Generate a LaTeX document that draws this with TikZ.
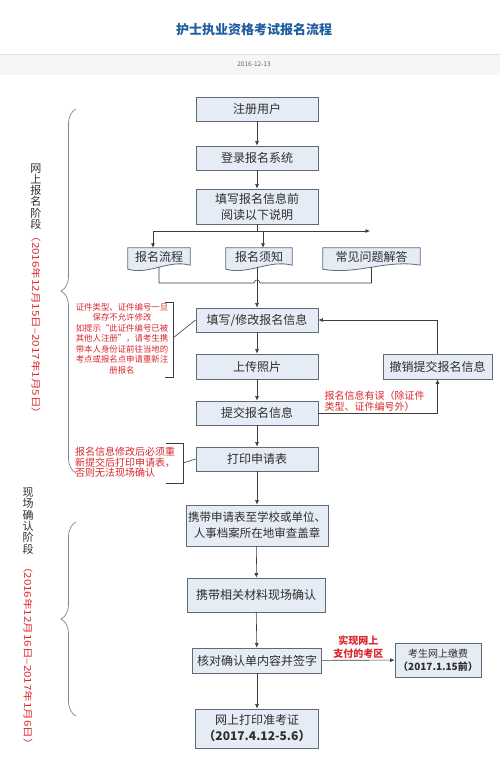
\documentclass[tikz,border=0pt]{standalone}
\usepackage{fontspec}
\setmainfont{Noto Sans CJK SC}
\usetikzlibrary{arrows.meta,positioning,calc,decorations.pathreplacing,backgrounds}
\definecolor{boxfill}{HTML}{E6ECF6}
\definecolor{boxline}{HTML}{5E6A78}
\definecolor{notered}{HTML}{D8262C}
\definecolor{titleblue}{HTML}{1E5E9E}
\definecolor{bandgray}{HTML}{F6F6F6}
\definecolor{bandline}{HTML}{E2E2E2}
\definecolor{ink}{HTML}{2E2E2E}
\definecolor{wire}{HTML}{3C3C3C}
\tikzset{
  flowbox/.style={
    rectangle, draw=boxline, fill=boxfill, line width=0.8pt,
    minimum width=122pt, minimum height=24pt,
    font=\fontsize{12}{16}\selectfont, text=ink, align=center,
    inner sep=2pt
  },
  docbox/.style={
    rectangle, inner sep=0pt, minimum height=17pt,
    font=\fontsize{12}{14}\selectfont, text=ink
  },
  docline/.style={draw=boxline, fill=boxfill, line width=0.8pt},
  flowarrow/.style={
    -{Latex[length=4.5pt,width=4pt]}, line width=0.6pt, color=wire
  },
  flowline/.style={line width=0.6pt, color=wire},
  notetext/.style={
    font=\fontsize{8.4}{10.5}\selectfont, text=notered, align=center,
    inner sep=0pt
  },
  redlabel/.style={
    font=\fontsize{10}{11}\selectfont, text=notered, align=left,
    inner sep=0pt
  },
  stagetext/.style={
    font=\fontsize{11}{11.3}\selectfont, text=ink, align=center,
    inner sep=0pt
  },
  datetext/.style={
    font=\fontsize{9.5}{11}\selectfont, text=notered, rotate=-90,
    inner sep=0pt
  },
  stagebrace/.style={
    decorate, decoration={brace, amplitude=15pt}, line width=0.7pt,
    color=boxline!80
  },
}
% wavy bottom of a document node, drawn behind its text
\newcommand{\docwave}[1]{%
  \begin{scope}[on background layer]
    \path[docline] (#1.north west) -- (#1.north east) -- (#1.south east)
      .. controls ($(#1.south east)!0.35!(#1.south west)+(0,-6)$)
             and ($(#1.south west)!0.35!(#1.south east)+(0,10)$)
      .. ($(#1.south west)+(0,4)$) -- cycle;
  \end{scope}}

\begin{document}
\begin{tikzpicture}[x=1pt, y=-1pt]
  \useasboundingbox (0,0) rectangle (500,766);

  % Header with title and date band
  \fill[bandgray] (0,54) rectangle (500,75);
  \draw[bandline] (0,54) -- (500,54);
  \node[font=\bfseries\fontsize{13}{15}\selectfont, text=titleblue] (title) at (254,30) {护士执业资格考试报名流程};
  \node[font=\fontsize{6.5}{8}\selectfont, text=black!60] (date) at (254,64) {2016-12-13};

  % Online registration column
  \node[flowbox] (reg)   at (257,109) {注册用户};
  \node[flowbox] (login) at (257,158) {登录报名系统};
  \node[flowbox, minimum height=35pt] (read) at (257,206.5) {填写报名信息前\\阅读以下说明};

  % Three documents to read
  \node[docbox, minimum width=62pt] (proc)   at (159,256.5) {报名流程};
  \node[docbox, minimum width=66pt] (notice) at (259,256.5) {报名须知};
  \node[docbox, minimum width=97pt] (faq)    at (371.5,256.5) {常见问题解答};
  \docwave{proc}
  \docwave{notice}
  \docwave{faq}

  \node[flowbox] (fill)   at (257,320) {填写/修改报名信息};
  \node[flowbox, minimum height=25pt] (photo) at (257,366.5) {上传照片};
  \node[flowbox] (submit) at (257,413) {提交报名信息};
  \node[flowbox] (print)  at (257,459) {打印申请表};
  \node[flowbox, minimum width=109pt, minimum height=25pt] (revoke) at (437.5,366.5) {撤销提交报名信息};

  % On-site confirmation column
  \node[flowbox, minimum width=135pt, minimum height=41pt, font=\fontsize{11.5}{16}\selectfont] (carry) at (257,525.5) {携带申请表至学校或单位、\\人事档案所在地审查盖章};
  \node[flowbox, minimum width=138pt, minimum height=34pt] (confirm) at (256,595) {携带相关材料现场确认};
  \node[flowbox, minimum width=129pt, minimum height=25pt] (check) at (257,660.5) {核对确认单内容并签字};
  \node[flowbox, minimum width=123pt, minimum height=39pt] (ticket) at (257,728.5) {网上打印准考证\\\textbf{（2017.4.12-5.6）}};
  \node[flowbox, minimum width=86pt, minimum height=34pt, font=\fontsize{10}{13}\selectfont] (pay) at (438,660) {考生网上缴费\\\textbf{（2017.1.15前）}};

  % Straight arrows down the main column
  \foreach \a/\b in {reg/login, login/read, fill/photo, photo/submit, submit/print,
                     print/carry, carry/confirm, confirm/check, check/ticket}
    \draw[flowarrow] (\a) -- (\b);

  % Branch to the documents
  \coordinate (brL) at (153,231);
  \coordinate (brN) at (263,231);
  \coordinate (brR) at (370,231);
  \draw[flowline] (read.south) -- (read.south |- brL);
  \draw[flowarrow] (brL) -- (brR);
  \draw[flowarrow] (brL) -- (brL |- proc.north);
  \draw[flowarrow] (brN) -- (brN |- notice.north);

  % Documents join and lead to the form
  \coordinate (hop) at (257,283);
  \draw[flowline] ($(proc.south)+(0,2)$) -- (proc.south |- hop) -- ([xshift=-3pt]hop)
    arc[start angle=180, end angle=0, radius=3pt] -- (faq.south |- hop) -- ($(faq.south)+(0,2)$);
  \draw[flowarrow] ($(fill.north |- notice.south)+(0,2)$) -- (fill.north);

  % Revoke loop
  \draw[flowarrow] (submit.east) -- (submit.east -| revoke.south) -- (revoke.south);
  \draw[flowarrow] (revoke.north) -- (revoke.north |- fill.east) -- (fill.east);
  \node[redlabel, anchor=south west] (err) at ($(submit.east)+(6,-1)$) {报名信息有误（除证件\\类型、证件编号外）};

  % Online payment branch
  \draw[flowarrow] (check) -- node[above=1pt, redlabel, align=center, font=\bfseries\fontsize{10}{13}\selectfont] (paynote) {实现网上\\支付的考区} (pay);

  % Red notes with brackets
  \node[notetext] (note1) at (122,338.5) {证件类型、证件编号一旦\\保存不允许修改\\如提示“此证件编号已被\\其他人注册”，请考生携\\带本人身份证前往当地的\\考点或报名点申请重新注\\册报名};
  \coordinate (n1b) at (173,338);
  \draw[flowline] (165,302) -- (173,302) -- (173,377) -- (165,377);
  \draw[flowline] (n1b) -- (fill.west);

  \node[redlabel, font=\fontsize{10}{10.5}\selectfont, anchor=west] (note2) at (75,462.5) {报名信息修改后必须重\\新提交后打印申请表，\\否则无法现场确认};
  \coordinate (n2b) at (183,463);
  \draw[flowline] (166,443) -- (183,443) -- (183,483) -- (166,483);
  \draw[flowline] (n2b) -- (print.west);

  % Stage braces and labels on the left
  \coordinate (s1top) at (76,109);
  \coordinate (s1bot) at (76,473);
  \draw[stagebrace] (s1bot) -- (s1top);
  \node[stagetext] (stage1) at (36,196.5) {网\\上\\报\\名\\阶\\段};
  \node[datetext] (date1) at (36,325) {\scalebox{1.22}[1]{（2016年12月15日–2017年1月5日）}};

  \coordinate (s2top) at (76,522);
  \coordinate (s2bot) at (76,716);
  \draw[stagebrace] (s2bot) -- (s2top);
  \node[stagetext] (stage2) at (28,521) {现\\场\\确\\认\\阶\\段};
  \node[datetext] (date2) at (28,655.5) {\scalebox{1.22}[1]{（2016年12月16日–2017年1月6日）}};

\end{tikzpicture}
\end{document}
